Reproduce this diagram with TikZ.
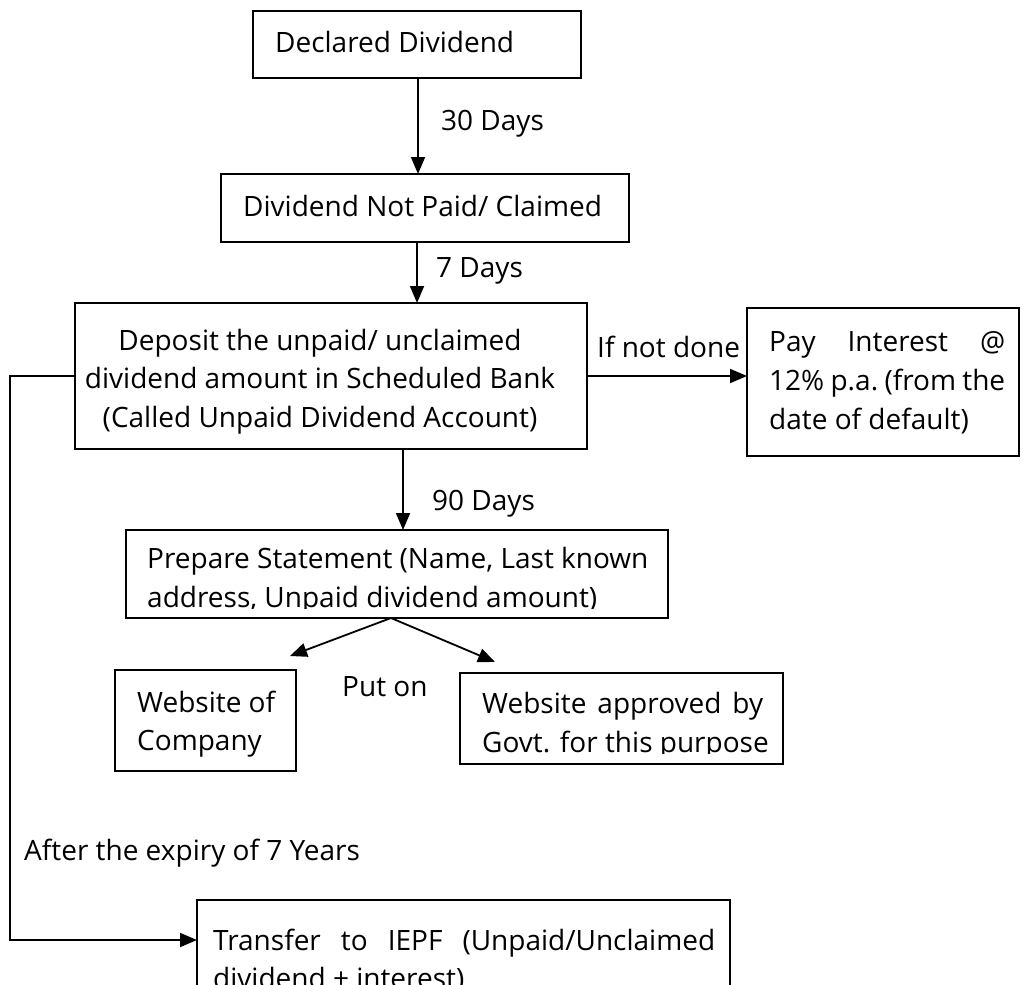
\documentclass[tikz,border=0pt]{standalone}
\usepackage{fontspec}
\setmainfont{Open Sans}
\usetikzlibrary{arrows.meta}
\begin{document}
\begin{tikzpicture}[x=1pt,y=-1pt,
  box/.style={draw, line width=1.8pt, anchor=north west, inner sep=0pt, outer sep=0pt},
  txt/.style={inner sep=0pt, anchor=base west, font=\fontsize{28}{39}\selectfont},
  txtc/.style={inner sep=0pt, anchor=base, font=\fontsize{28}{39}\selectfont},
  conn/.style={line width=1.8pt, -{Triangle[length=17pt,width=14pt]}}]
\clip (0,0) rectangle (1023,985);
\fill[white] (0,0) rectangle (1023,985);
% boxes
\node[box, minimum width=328pt, minimum height=67pt] (dd) at (253,11) {};
\node[box, minimum width=408pt, minimum height=68pt] (np) at (221,174) {};
\node[box, minimum width=512pt, minimum height=146pt] (dep) at (75,303) {};
\node[box, minimum width=272pt, minimum height=148pt] (pay) at (747,308) {};
\node[box, minimum width=542pt, minimum height=88pt] (ps) at (126,530) {};
\node[box, minimum width=181pt, minimum height=101pt] (wc) at (115,670) {};
\node[box, minimum width=323pt, minimum height=91pt] (wg) at (460,673) {};
\node[box, minimum width=533pt, minimum height=130pt] (tr) at (197,900) {};
% texts
\node[txt] (tdd) at (275,52) {Declared Dividend};
\node[txt] (tnp) at (243,216) {Dividend Not Paid/ Claimed};
\node[txtc] (tdep1) at (320,350) {Deposit the unpaid/ unclaimed};
\node[txtc] (tdep2) at (320,388) {dividend amount in Scheduled Bank};
\node[txtc] (tdep3) at (320,427) {(Called Unpaid Dividend Account)};
\node[txt] (tpay1) at (769,351) {\hbox to 236pt{Pay\hfill Interest\hfill @}};
\node[txt] (tpay2) at (769,390) {\hbox to 236pt{12\%\hfill p.a.\hfill (from\hfill the}};
\node[txt] (tpay3) at (769,429) {date of default)};
\begin{scope}
\clip (ps.north west) rectangle ([yshift=10pt]ps.south east);
\node[txt] (tps1) at (147,568) {Prepare Statement (Name, Last known};
\node[txt] (tps2) at (147,607) {address, Unpaid dividend amount)};
\end{scope}
\node[txt] (twc1) at (137,712) {Website of};
\node[txt] (twc2) at (137,750) {Company};
\begin{scope}
\clip (wg.north west) rectangle ([yshift=11pt]wg.south east);
\node[txt] (twg1) at (482,713) {\hbox to 281pt{Website\hfill approved\hfill by}};
\node[txt] (twg2) at (482,752) {Govt. for this purpose};
\end{scope}
\node[txt] (ttr1) at (213,950) {\hbox to 502pt{Transfer\hfill to\hfill IEPF\hfill (Unpaid/Unclaimed}};
\node[txt] (ttr2) at (213,988) {dividend + interest)};
% labels
\node[txt] (l30) at (441,130) {30 Days};
\node[txt] (l7) at (436,277) {7 Days};
\node[txt] (l90) at (432,510) {90 Days};
\node[txt] (lnd) at (597,357) {If not done};
\node[txt] (lput) at (342,696) {Put on};
\node[txt] (l7y) at (24,860) {After the expiry of 7 Years};
% connectors
\coordinate (c1) at (290,656);
\coordinate (c2) at (495,662);
\coordinate (s0) at (391,618);
\draw[conn] ([xshift=1pt]dd.south) -- ([xshift=1pt]dd.south |- np.north);
\draw[conn] ([xshift=-8pt]np.south) -- ([xshift=-8pt]np.south |- dep.north);
\draw[conn] ([xshift=72pt]dep.south) -- ([xshift=72pt]dep.south |- ps.north);
\draw[conn] (dep.east) -- (dep.east -| pay.west);
\draw[conn] (s0) -- (c1);
\draw[conn] (s0) -- (c2);
\draw[conn] (dep.west) -- ++(-65,0) |- ([yshift=-40pt]tr.north west);
\end{tikzpicture}
\end{document}
